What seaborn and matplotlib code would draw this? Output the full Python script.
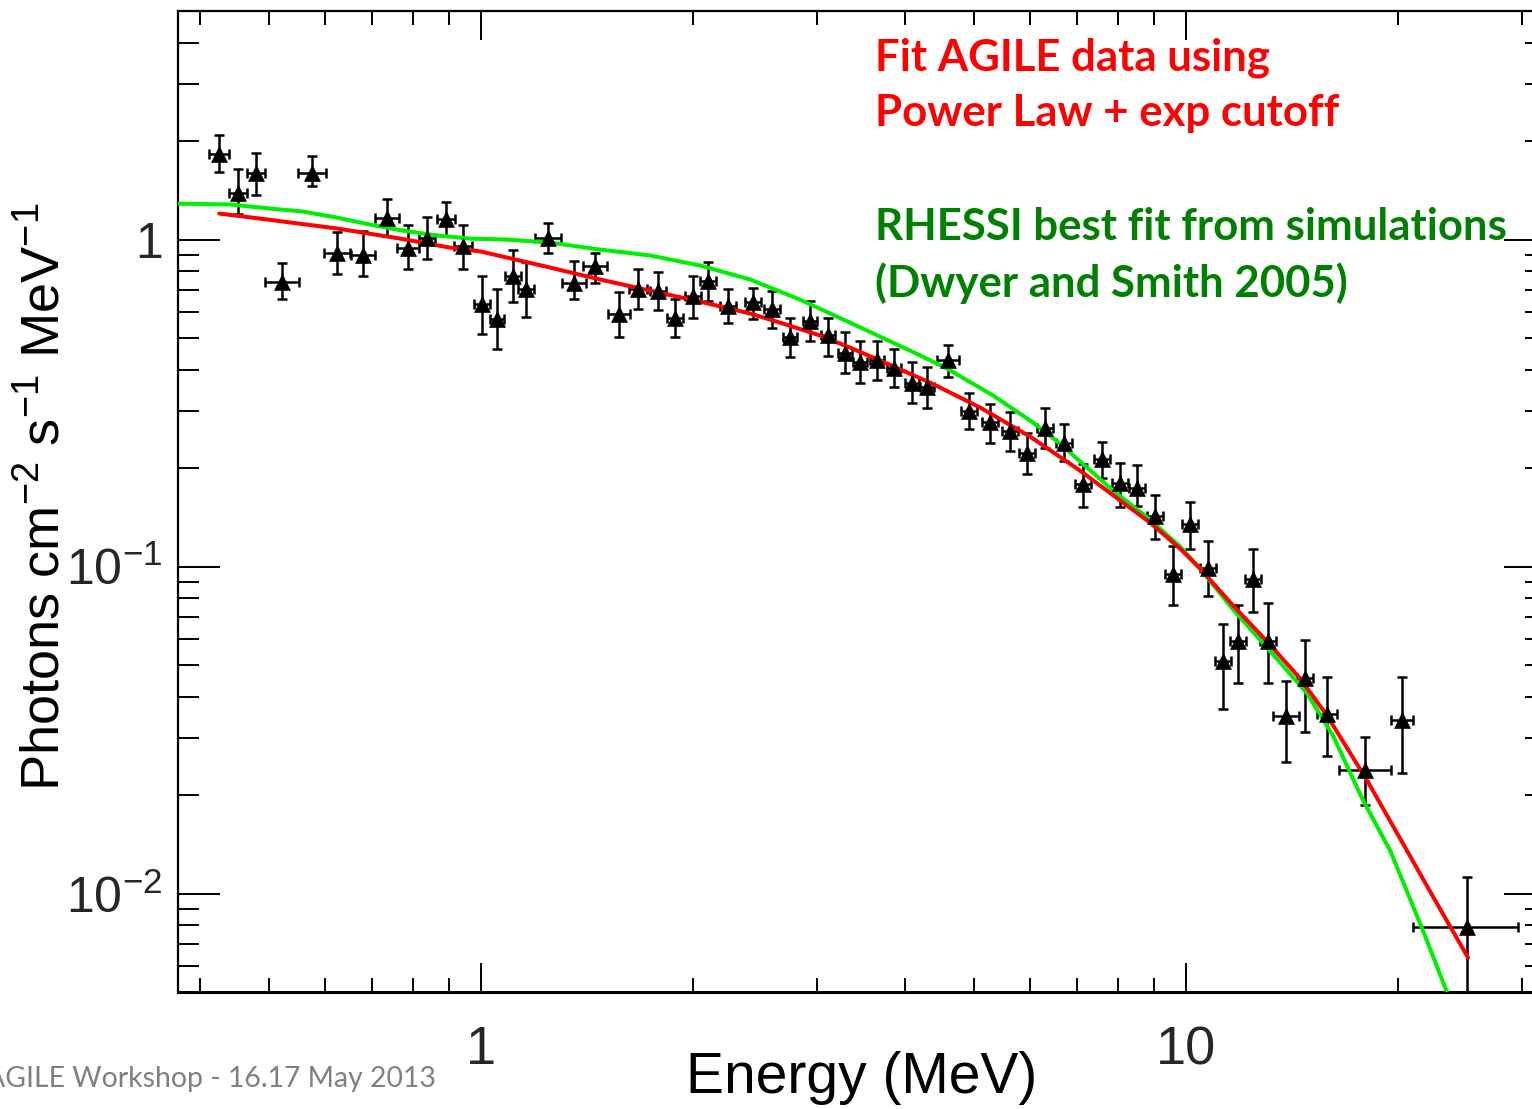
import matplotlib
matplotlib.use("Agg")
import matplotlib.pyplot as plt
from matplotlib.ticker import FixedLocator, FixedFormatter, LogLocator, NullFormatter
import seaborn as sns
import pandas as pd
import numpy as np

# ---- AGILE spectrum: bin centres, bin edges and flux with 1-sigma bounds ----
energy = [0.4254, 0.4525, 0.480, 0.5216, 0.575, 0.625, 0.680, 0.735, 0.788, 0.8375,
          0.892, 0.943, 1.002, 1.053, 1.110, 1.158, 1.245, 1.355, 1.451, 1.569,
          1.670, 1.783, 1.884, 1.998, 2.099, 2.240, 2.431, 2.587, 2.744, 2.929,
          3.107, 3.284, 3.449, 3.646, 3.854, 4.087, 4.293, 4.597, 4.922, 5.272,
          5.629, 5.950, 6.310, 6.714, 7.143, 7.600, 8.06, 8.52, 9.04, 9.58,
          10.13, 10.74, 11.28, 11.85, 12.45, 13.07, 13.87, 14.75, 15.85, 17.94,
          20.25, 25.03]
e_lo = [0.4117, 0.4394, 0.4661, 0.4934, 0.5493, 0.599, 0.654, 0.707, 0.760, 0.816,
        0.866, 0.916, 0.976, 1.029, 1.081, 1.128, 1.193, 1.303, 1.395, 1.514,
        1.622, 1.737, 1.835, 1.946, 2.045, 2.182, 2.368, 2.520, 2.682, 2.863,
        3.037, 3.210, 3.371, 3.564, 3.767, 3.995, 4.196, 4.435, 4.795, 5.136,
        5.484, 5.796, 6.147, 6.541, 6.959, 7.404, 7.852, 8.300, 8.807, 9.333,
        9.869, 10.46, 10.99, 11.54, 12.13, 12.73, 13.29, 14.37, 15.34, 16.48,
        19.53, 20.99]
e_hi = [0.4395, 0.4660, 0.4943, 0.5514, 0.6019, 0.652, 0.707, 0.764, 0.817, 0.860,
        0.919, 0.971, 1.029, 1.077, 1.139, 1.189, 1.299, 1.409, 1.509, 1.626,
        1.720, 1.830, 1.934, 2.051, 2.155, 2.299, 2.495, 2.656, 2.807, 2.997,
        3.179, 3.360, 3.529, 3.730, 3.943, 4.181, 4.392, 4.765, 5.052, 5.412,
        5.778, 6.108, 6.477, 6.892, 7.332, 7.801, 8.274, 8.746, 9.280, 9.834,
        10.40, 11.02, 11.58, 12.16, 12.78, 13.42, 14.47, 15.14, 16.38, 19.53,
        20.99, 29.57]
flux = [1.832, 1.392, 1.603, 0.744, 1.603, 0.912, 0.900, 1.167, 0.945, 1.014,
        1.159, 0.959, 0.637, 0.573, 0.776, 0.708, 1.014, 0.739, 0.833, 0.594,
        0.708, 0.698, 0.577, 0.674, 0.749, 0.628, 0.642, 0.615, 0.502, 0.565,
        0.509, 0.451, 0.421, 0.427, 0.406, 0.365, 0.353, 0.427, 0.300, 0.276,
        0.2605, 0.2232, 0.266, 0.2394, 0.1794, 0.2140, 0.1807, 0.1744, 0.1432, 0.0952,
        0.1353, 0.0993, 0.0516, 0.0590, 0.0919, 0.0594, 0.0348, 0.0455, 0.0355, 0.0238,
        0.0340, 0.00793]
flux_hi = [2.095, 1.649, 1.845, 0.845, 1.806, 1.058, 1.065, 1.335, 1.111, 1.176,
           1.307, 1.111, 0.776, 0.708, 0.926, 0.851, 1.127, 0.857, 0.912, 0.693,
           0.810, 0.798, 0.660, 0.776, 0.851, 0.708, 0.713, 0.698, 0.577, 0.651,
           0.577, 0.520, 0.491, 0.491, 0.464, 0.421, 0.409, 0.477, 0.340, 0.315,
           0.296, 0.257, 0.306, 0.2737, 0.2065, 0.2411, 0.2080, 0.2051, 0.1661, 0.1159,
           0.1580, 0.1201, 0.0669, 0.0765, 0.1135, 0.0776, 0.0448, 0.0598, 0.0458, 0.0302,
           0.0458, 0.01127]
flux_lo = [1.614, 1.201, 1.373, 0.656, 1.463, 0.787, 0.776, 1.029, 0.810, 0.875,
           1.029, 0.810, 0.516, 0.464, 0.642, 0.581, 0.912, 0.656, 0.739, 0.505,
           0.615, 0.607, 0.502, 0.577, 0.651, 0.554, 0.573, 0.538, 0.436, 0.491,
           0.442, 0.392, 0.363, 0.373, 0.353, 0.317, 0.306, 0.381, 0.264, 0.2394,
           0.2263, 0.1925, 0.2312, 0.2110, 0.1526, 0.1872, 0.1526, 0.1537, 0.1218, 0.0765,
           0.1135, 0.0810, 0.0368, 0.0439, 0.0728, 0.0442, 0.0253, 0.0313, 0.0264, 0.0186,
           0.0234, 0.0040]

# ---- Power law + exponential cutoff fit to the AGILE data ----
plexp_energy = [0.4254, 0.4859, 0.625, 0.7675, 0.9037, 1.0, 1.253, 1.475, 1.737, 2.045,
                2.408, 2.656, 3.026, 3.337, 3.681, 4.335, 5.104, 6.007, 7.071, 7.551,
                8.890, 9.806, 10.47, 11.66, 13.03, 14.51, 15.85, 18.06, 20.12, 22.48,
                25.12]
plexp_flux = [1.201, 1.159, 1.081, 1.007, 0.945, 0.919, 0.821, 0.755, 0.698, 0.646,
              0.594, 0.557, 0.509, 0.4674, 0.4266, 0.3652, 0.3064, 0.2498, 0.1966, 0.1769,
              0.1363, 0.1135, 0.0986, 0.0760, 0.0590, 0.0455, 0.0350, 0.0222, 0.01473, 0.00966,
              0.00637]

# ---- RHESSI best-fit spectrum (Dwyer and Smith 2005) ----
rhessi_energy = [0.3717, 0.4406, 0.5021, 0.5589, 0.625, 0.6962, 0.7751, 0.8661, 0.9647, 1.089,
                 1.253, 1.475, 1.737, 2.045, 2.408, 2.835, 3.337, 4.060, 4.581, 5.325,
                 6.067, 6.626, 7.880, 8.890, 9.806, 10.47, 11.66, 13.03, 14.85, 16.16,
                 17.83, 19.48, 21.48, 23.46]
rhessi_flux = [1.288, 1.280, 1.244, 1.218, 1.167, 1.111, 1.065, 1.029, 1.007, 1.0,
               0.979, 0.932, 0.894, 0.833, 0.755, 0.655, 0.557, 0.4576, 0.4032, 0.3335,
               0.2757, 0.2377, 0.1708, 0.1392, 0.1151, 0.0986, 0.0739, 0.0565, 0.0409, 0.0304,
               0.01925, 0.01353, 0.00810, 0.00498]

x_ticks = [1, 10]
x_tick_labels = ["1", "10"]
y_ticks = [0.01, 0.1, 1]
y_tick_labels = ["10$^{-2}$", "10$^{-1}$", "1"]

sns.set_theme(style="ticks")
plt.rcParams["font.family"] = ["Liberation Sans", "DejaVu Sans"]
plt.rcParams["mathtext.fontset"] = "custom"
plt.rcParams["mathtext.rm"] = "Liberation Sans"
plt.rcParams["mathtext.it"] = "Liberation Sans:italic"
plt.rcParams["mathtext.bf"] = "Liberation Sans:bold"
plt.rcParams["axes.unicode_minus"] = True

W, H = 1532, 1109
fig = plt.figure(figsize=(W / 100, H / 100), dpi=100)
fig.patch.set_facecolor("white")
ax = fig.add_axes([178 / W, (H - 992) / H, (1546 - 178) / W, (992 - 11) / H])
ax.set_facecolor("white")

ax.set_xscale("log")
ax.set_yscale("log")
ax.set_xlim(0.3717, 32.4)
ax.set_ylim(0.005, 5)

spec = pd.DataFrame({"E": energy, "F": flux, "Elo": e_lo, "Ehi": e_hi,
                     "Flo": flux_lo, "Fhi": flux_hi})
xerr = np.vstack([spec["E"] - spec["Elo"], spec["Ehi"] - spec["E"]])
yerr = np.vstack([spec["F"] - spec["Flo"], spec["Fhi"] - spec["F"]])
ax.errorbar(spec["E"], spec["F"], xerr=xerr, yerr=yerr, fmt="none",
            ecolor="black", elinewidth=1.8, capsize=3.3, capthick=1.8, zorder=2)

fits = pd.concat([
    pd.DataFrame({"E": plexp_energy, "F": plexp_flux, "model": "plexp"}),
    pd.DataFrame({"E": rhessi_energy, "F": rhessi_flux, "model": "rhessi"}),
], ignore_index=True)
sns.lineplot(data=fits, x="E", y="F", hue="model", sort=False, estimator=None,
             palette={"plexp": "#ff0000", "rhessi": "#00ee00"},
             hue_order=["rhessi", "plexp"], linewidth=2.9, legend=False, ax=ax, zorder=3)

sns.scatterplot(data=spec, x="E", y="F", marker="^", s=130, color="black",
                edgecolor="black", linewidth=0.5, legend=False, ax=ax, zorder=4)

# axes frame and ticks
for side in ["left", "top", "right"]:
    ax.spines[side].set_linewidth(1.6)
    ax.spines[side].set_color("black")
ax.spines["bottom"].set_linewidth(2.2)
ax.spines["bottom"].set_color("black")

ax.xaxis.set_major_locator(FixedLocator(x_ticks))
ax.xaxis.set_major_formatter(FixedFormatter(x_tick_labels))
ax.xaxis.set_minor_locator(LogLocator(base=10, subs=np.arange(2, 10), numticks=20))
ax.xaxis.set_minor_formatter(NullFormatter())
ax.yaxis.set_major_locator(FixedLocator(y_ticks))
ax.yaxis.set_major_formatter(FixedFormatter(y_tick_labels))
ax.yaxis.set_minor_locator(LogLocator(base=10, subs=np.arange(2, 10), numticks=20))
ax.yaxis.set_minor_formatter(NullFormatter())

ax.tick_params(axis="x", which="both", direction="in", top=True, bottom=True,
               width=1.4, color="black", labelsize=39, pad=24)
ax.tick_params(axis="x", which="major", length=21)
ax.tick_params(axis="x", which="minor", length=10)
ax.tick_params(axis="y", which="both", direction="in", left=True, right=True,
               width=1.4, color="black", labelsize=36, pad=11)
ax.tick_params(axis="y", which="major", length=30)
ax.tick_params(axis="y", which="minor", length=15)

ax.set_xlabel("Energy (MeV)", fontsize=41, color="black")
ax.set_ylabel("Photons cm$^{-2}$ s$^{-1}$ MeV$^{-1}$", fontsize=39, color="black")
ax.xaxis.set_label_coords(0.5, -0.06)
ax.yaxis.set_label_coords(-0.079, 0.505)

# annotations
ann_font = ["Lato", "DejaVu Sans"]
fig.text(875 / W, 1 - 70 / H, "Fit AGILE data using", color="#ff0000",
         fontsize=31.5, fontweight="bold", family=ann_font, va="baseline")
fig.text(875 / W, 1 - 126 / H, "Power Law + exp cutoff", color="#ff0000",
         fontsize=31.5, fontweight="bold", family=ann_font, va="baseline")
fig.text(875 / W, 1 - 240 / H, "RHESSI best fit from simulations", color="#008000",
         fontsize=31.5, fontweight="bold", family=ann_font, va="baseline")
fig.text(875 / W, 1 - 297 / H, "(Dwyer and Smith 2005)", color="#008000",
         fontsize=31.5, fontweight="bold", family=ann_font, va="baseline")

fig.text(436 / W, 1 - 1087 / H, "AGILE Workshop - 16.17 May 2013", color="#808080",
         fontsize=20.4, family=ann_font, ha="right", va="baseline")

fig.savefig("out.png", dpi=100, facecolor="white")
